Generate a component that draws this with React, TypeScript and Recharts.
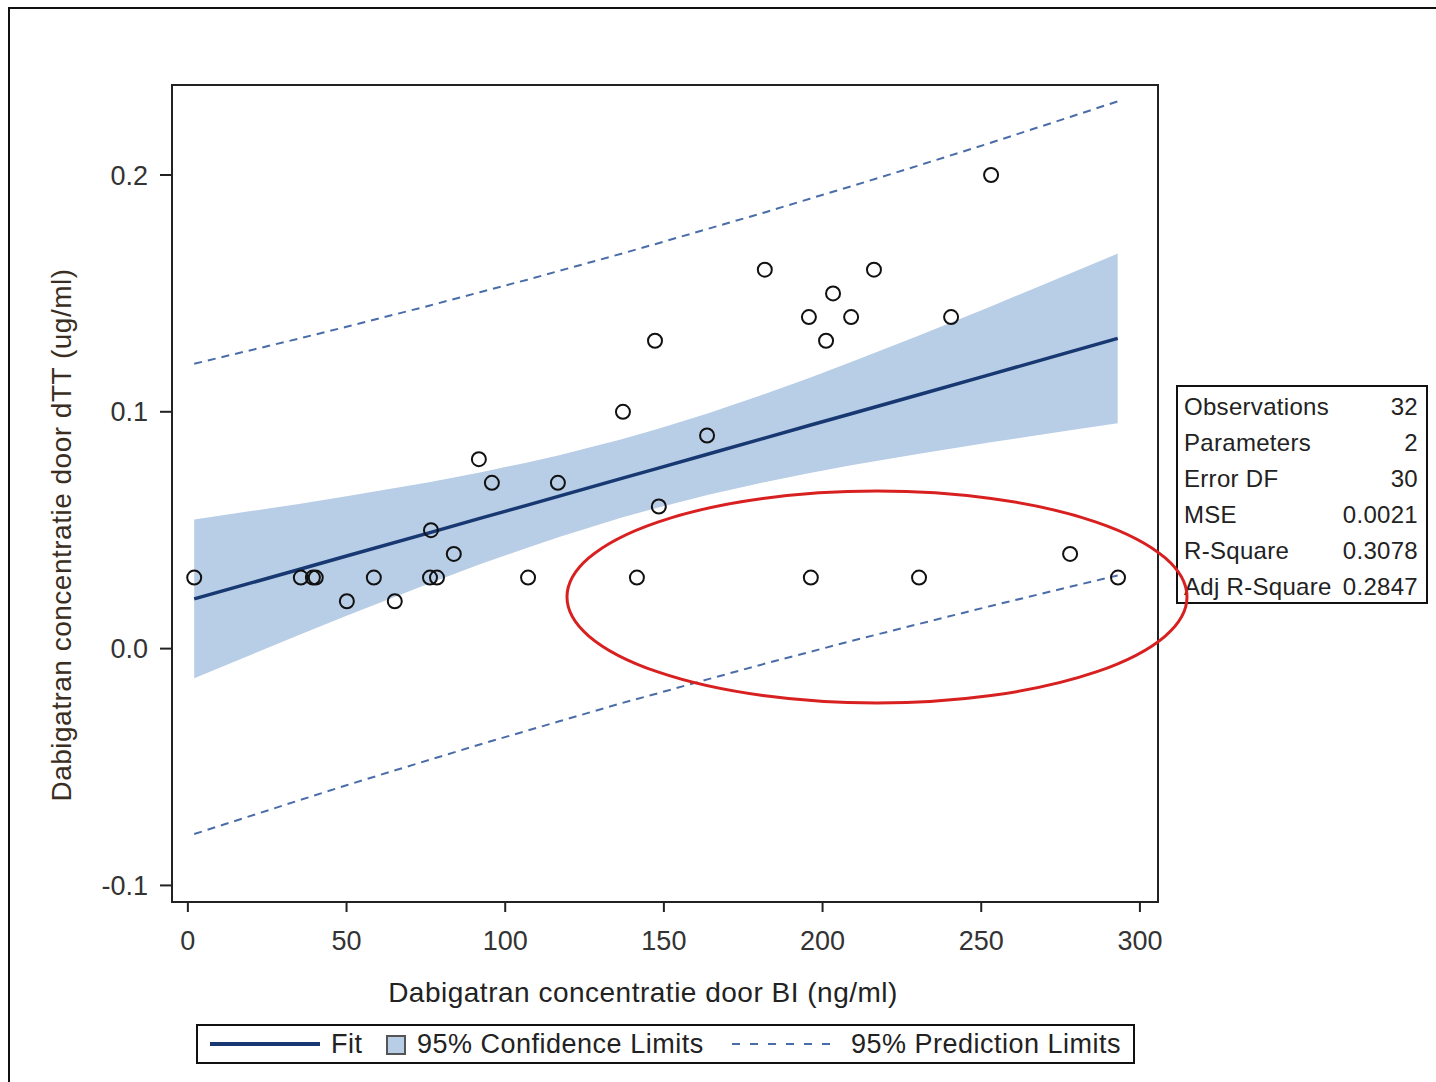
import React from 'react';
import { ComposedChart, Line, Area, Scatter, XAxis, YAxis } from 'recharts';

// observed points: BI concentration (ng/ml) vs dTT concentration (ug/ml)
const obsX = [2, 35.6, 39.4, 40.3, 50.1, 58.6, 65.2, 76.6, 76.3, 78.5, 83.8, 91.7, 95.8, 107.2, 116.6, 137.1,
  141.5, 147.2, 148.4, 163.6, 181.8, 195.7, 196.3, 201.1, 203.3, 209, 216.2, 230.4, 240.5, 253.1, 278, 293.1];
const obsY = [0.03, 0.03, 0.03, 0.03, 0.02, 0.03, 0.02, 0.05, 0.03, 0.03, 0.04, 0.08, 0.07, 0.03, 0.07, 0.1,
  0.03, 0.13, 0.06, 0.09, 0.16, 0.14, 0.03, 0.13, 0.15, 0.14, 0.16, 0.03, 0.14, 0.2, 0.04, 0.03];

// fit and limits read along the x range
const fitX = [2, 35, 50, 76, 92, 107, 117, 137, 148, 164, 182, 196, 209, 230, 253, 278, 293];
const fitY = [0.021, 0.0334, 0.0391, 0.0489, 0.055, 0.0606, 0.0644, 0.072, 0.0761, 0.0822, 0.089, 0.0943, 0.0992, 0.1071, 0.1158, 0.1253, 0.131];
const ciLow = [-0.0125, 0.0057, 0.0139, 0.0275, 0.0356, 0.0426, 0.0471, 0.0555, 0.0595, 0.065, 0.0704, 0.0742, 0.0774, 0.0822, 0.0871, 0.0922, 0.0952];
const ciHigh = [0.0545, 0.0611, 0.0643, 0.0703, 0.0744, 0.0786, 0.0817, 0.0885, 0.0927, 0.0994, 0.1076, 0.1144, 0.121, 0.132, 0.1445, 0.1584, 0.1668];
const piLow = [-0.0783, -0.0641, -0.0577, -0.047, -0.0405, -0.0346, -0.0307, -0.0229, -0.0189, -0.0129, -0.0063, -0.0014, 0.0032, 0.0103, 0.018, 0.0261, 0.0309];
const piHigh = [0.1203, 0.1309, 0.1359, 0.1448, 0.1505, 0.1558, 0.1595, 0.1669, 0.1711, 0.1773, 0.1843, 0.19, 0.1952, 0.2039, 0.2136, 0.2245, 0.2311];

const xTicks = [0, 50, 100, 150, 200, 250, 300];
const yTicks = [-0.1, 0.0, 0.1, 0.2];

const stats = [
  { name: 'Observations', value: '32' },
  { name: 'Parameters', value: '2' },
  { name: 'Error DF', value: '30' },
  { name: 'MSE', value: '0.0021' },
  { name: 'R-Square', value: '0.3078' },
  { name: 'Adj R-Square', value: '0.2847' },
];

const fitData = fitX.map((x, i) => ({ x, fit: fitY[i], ci: [ciLow[i], ciHigh[i]], lo: piLow[i], hi: piHigh[i] }));
const points = obsX.map((x, i) => ({ x, y: obsY[i] }));

const FONT = 'Arial, "Liberation Sans", sans-serif';
const FIT = '#183872';
const BAND = '#b8cde6';
const DASH = '#4a6ca8';

const Ring = (props: any) => (
  <circle cx={props.cx} cy={props.cy} r={7} fill="none" stroke="#111" strokeWidth={2} />
);

const App: React.FC = () => {
  const tick = { fontSize: 27, fill: '#333', fontFamily: FONT };
  return (
    <div style={{ position: 'absolute', left: 0, top: 0, width: 1436, height: 1082, overflow: 'hidden', background: '#fff', fontFamily: FONT }}>
      <div style={{ position: 'absolute', left: 8, top: 7, width: 1450, height: 1100, borderLeft: '2px solid #111', borderTop: '2px solid #111' }} />

      <div style={{ position: 'absolute', left: 0, top: 0 }}>
        <ComposedChart width={1170} height={1000} data={fitData} margin={{ top: 85, left: 92, right: 12, bottom: 38 }}>
          <XAxis
            dataKey="x" type="number" domain={[-5, 305.7]} ticks={xTicks} allowDataOverflow
            height={60} tickSize={10} tickMargin={19} tick={tick}
            axisLine={{ stroke: '#222', strokeWidth: 2 }} tickLine={{ stroke: '#222', strokeWidth: 2 }}
          />
          <YAxis
            type="number" domain={[-0.107, 0.238]} ticks={yTicks} allowDataOverflow
            width={80} tickSize={12} tickMargin={12} tick={tick}
            tickFormatter={(v: number) => v.toFixed(1)}
            axisLine={{ stroke: '#222', strokeWidth: 2 }} tickLine={{ stroke: '#222', strokeWidth: 2 }}
          />
          <Area dataKey="ci" type="linear" fill={BAND} fillOpacity={1} stroke="none" isAnimationActive={false} />
          <Line dataKey="lo" type="linear" stroke={DASH} strokeWidth={2} strokeDasharray="8 6" dot={false} isAnimationActive={false} />
          <Line dataKey="hi" type="linear" stroke={DASH} strokeWidth={2} strokeDasharray="8 6" dot={false} isAnimationActive={false} />
          <Line dataKey="fit" type="linear" stroke={FIT} strokeWidth={3.5} dot={false} isAnimationActive={false} />
          <Scatter data={points} dataKey="y" shape={Ring} isAnimationActive={false} />
        </ComposedChart>
      </div>

      {/* plot frame */}
      <div style={{ position: 'absolute', left: 171, top: 84, width: 984, height: 815, border: '2px solid #222', pointerEvents: 'none' }} />

      <div style={{ position: 'absolute', left: 62, top: 535, transform: 'translate(-50%, -50%) rotate(-90deg)', whiteSpace: 'nowrap', fontSize: 28, letterSpacing: 0.5, color: '#3a2e22' }}>
        Dabigatran concentratie door dTT (ug/ml)
      </div>
      <div style={{ position: 'absolute', left: 643, top: 993, transform: 'translate(-50%, -50%)', whiteSpace: 'nowrap', fontSize: 28, letterSpacing: 0.5, color: '#222' }}>
        Dabigatran concentratie door BI (ng/ml)
      </div>

      <div style={{ position: 'absolute', left: 1176, top: 385, width: 248, height: 215, border: '2px solid #111', boxSizing: 'content-box' }}>
        {stats.map((s, i) => (
          <div key={s.name} style={{ position: 'absolute', left: 6, right: 8, top: 5 + i * 36, height: 30, display: 'flex', justifyContent: 'space-between', fontSize: 24, letterSpacing: 0.3, color: '#222', lineHeight: '30px' }}>
            <span>{s.name}</span>
            <span>{s.value}</span>
          </div>
        ))}
      </div>

      <div style={{ position: 'absolute', left: 196, top: 1024, width: 935, height: 36, border: '2px solid #111', fontSize: 27, letterSpacing: 0.5, color: '#222' }}>
        <div style={{ position: 'absolute', left: 12, top: 16, width: 110, height: 4, background: FIT }} />
        <span style={{ position: 'absolute', left: 133, top: 2, lineHeight: '32px' }}>Fit</span>
        <div style={{ position: 'absolute', left: 188, top: 9, width: 16, height: 16, background: BAND, border: '2px solid #555' }} />
        <span style={{ position: 'absolute', left: 219, top: 2, lineHeight: '32px' }}>95% Confidence Limits</span>
        <svg style={{ position: 'absolute', left: 534, top: 10 }} width={104} height={16}>
          <line x1={0} y1={8} x2={104} y2={8} stroke={DASH} strokeWidth={2} strokeDasharray="8 10" />
        </svg>
        <span style={{ position: 'absolute', left: 653, top: 2, lineHeight: '32px' }}>95% Prediction Limits</span>
      </div>

      <svg style={{ position: 'absolute', left: 0, top: 0, pointerEvents: 'none' }} width={1436} height={1082}>
        <ellipse cx={877} cy={597} rx={310} ry={106} fill="none" stroke="#d82020" strokeWidth={3} />
      </svg>
    </div>
  );
};

export default App;
